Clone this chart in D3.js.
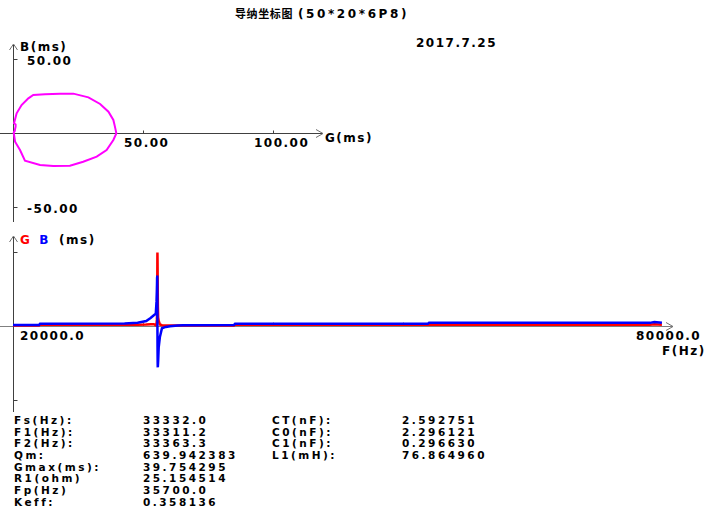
<!DOCTYPE html>
<html>
<head>
<meta charset="utf-8">
<script src="https://cdn.jsdelivr.net/npm/d3@7"></script>
<style>
  body { margin: 0; background: #fff; }
  text { font-family: "DejaVu Sans", sans-serif; font-weight: bold; font-size: 12px; letter-spacing: 1.5px; fill: #000; }
  text.param { font-size: 10.5px; letter-spacing: 2.5px; }
</style>
</head>
<body>
<svg id="chart" width="714" height="518"></svg>
<script>
const width = 714;
const height = 518;

// sweep data: frequency (Hz), conductance G (ms), susceptance B (ms)
const freqHz = [20000, 22400, 22500, 30300, 31500, 32300, 32700, 33000, 33180, 33250, 33280, 33295,
    33300, 33306, 33311, 33316, 33321, 33325, 33328, 33330, 33331, 33332, 33336, 33341,
    33347, 33353, 33360, 33366, 33375, 33400, 33450, 33560, 33750, 34100, 34500, 35200,
    35700, 40400, 40500, 58300, 58400, 78800, 79200, 79900];
const gMs = [0.3, 0.3, 0.65, 0.65, 0.7, 0.8, 1.0, 1.0, 0.4, 1.4, 3.3, 5.9,
    7.8, 12.3, 18.1, 23.2, 29.0, 33.5, 36.7, 38.6, 39.2, 39.75, 38.6, 36.0,
    32.2, 27.0, 21.9, 15.5, 10.4, 4.6, 2.7, 0.8, 0.4, 0.3, 0.3, 0.3,
    0.3, 0.3, 0.65, 0.65, 0.7, 0.7, 0.9, 0.7];
const bMs = [0.5, 0.5, 1.25, 1.3, 1.8, 2.7, 4.3, 5.8, 6.6, 13.3, 18.9, 23.4,
    25.7, 26.1, 26.6, 26.6, 24.1, 19.6, 14.4, 8.8, 4.3, -0.2, -4.7, -11.5,
    -16.0, -19.4, -22.1, -22.3, -21.6, -18.7, -11.5, -5.9, -1.2, -0.5, -0.1, 0.3,
    0.4, 0.5, 1.25, 1.25, 1.7, 1.7, 2.2, 1.7];

const gTicks = [50, 100];
const bTicks = [50, -50];
const fTicks = [32000, 44000, 56000, 68000];
const gbTicks = [40, -40];

const paramNames1 = ["Fs(Hz):", "F1(Hz):", "F2(Hz):", "Qm:", "Gmax(ms):", "R1(ohm)", "Fp(Hz)", "Keff:"];
const paramValues1 = ["33332.0", "33311.2", "33363.3", "639.942383", "39.754295", "25.154514", "35700.0", "0.358136"];
const paramNames2 = ["CT(nF):", "C0(nF):", "C1(nF):", "L1(mH):"];
const paramValues2 = ["2.592751", "2.296121", "0.296630", "76.864960"];

const data = freqHz.map((f, i) => ({ f: f, g: gMs[i], b: bMs[i] }));

const svg = d3.select("#chart");
const axisColor = "#404040";

function arrowRight(x, y) {
    svg.append("path").attr("d", `M${x - 7},${y - 4}L${x},${y}L${x - 7},${y + 4}`)
        .attr("fill", "none").attr("stroke", "#707070");
}
function arrowUp(x, y) {
    svg.append("path").attr("d", `M${x - 4},${y + 6}L${x},${y}L${x + 4},${y + 6}`)
        .attr("fill", "none").attr("stroke", "#707070");
}

// title and date
const title = svg.append("text").attr("x", 235).attr("y", 18);
title.append("tspan").style("font-family", "'Noto Sans CJK SC'").style("font-size", "11px")
    .style("letter-spacing", "0.6px").text("导纳坐标图");
title.append("tspan").attr("dx", 5).style("letter-spacing", "2.6px").text("(50*20*6P8)");
svg.append("text").attr("x", 416).attr("y", 47).text("2017.7.25");

// ---- admittance circle (G vs B) ----
const xG = d3.scaleLinear().domain([0, 50]).range([13, 143]);
const yB = d3.scaleLinear().domain([-50, 50]).range([207, 59]);

svg.append("line").attr("x1", 0).attr("x2", 323).attr("y1", yB(0) + 0.5).attr("y2", yB(0) + 0.5)
    .attr("stroke", axisColor);
svg.append("line").attr("x1", xG(0) + 0.5).attr("x2", xG(0) + 0.5).attr("y1", 45).attr("y2", 222)
    .attr("stroke", axisColor);
arrowRight(323, yB(0) + 0.5);
arrowUp(xG(0) + 0.5, 44);

svg.append("g").attr("transform", `translate(0,${yB(0) + 0.5})`)
    .call(d3.axisTop(xG).tickValues(gTicks).tickSize(3).tickFormat(""))
    .call(g => g.select(".domain").remove())
    .selectAll("line").attr("stroke", axisColor);
svg.append("g").attr("transform", `translate(${xG(0) + 0.5},0)`)
    .call(d3.axisRight(yB).tickValues(bTicks).tickSize(4).tickFormat(""))
    .call(g => g.select(".domain").remove())
    .selectAll("line").attr("stroke", axisColor);

svg.selectAll(".glabel").data(gTicks).join("text").attr("class", "glabel")
    .attr("x", d => xG(d) - 19).attr("y", 147).text(d => d.toFixed(2));
svg.selectAll(".blabel").data(bTicks).join("text").attr("class", "blabel")
    .attr("x", 27).attr("y", d => yB(d) + 6).text(d => d.toFixed(2));
svg.append("text").attr("x", 325).attr("y", 142).text("G(ms)");
svg.append("text").attr("x", 20).attr("y", 51).text("B(ms)");

svg.append("path").datum(data)
    .attr("d", d3.line().x(d => xG(d.g)).y(d => yB(d.b)).curve(d3.curveLinearClosed))
    .attr("fill", "none").attr("stroke", "#ff00ff").attr("stroke-width", 2);

// ---- G and B against frequency ----
const xF = d3.scaleLinear().domain([20000, 80000]).range([13, 663]);
const yGB = d3.scaleLinear().domain([-40, 40]).range([400, 252]);

svg.append("line").attr("x1", 0).attr("x2", 673).attr("y1", yGB(0) + 0.5).attr("y2", yGB(0) + 0.5)
    .attr("stroke", "#808080");
svg.append("line").attr("x1", 13.5).attr("x2", 13.5).attr("y1", 237).attr("y2", 412)
    .attr("stroke", axisColor);
arrowRight(673, yGB(0) + 0.5);
arrowUp(13.5, 236);

svg.append("g").attr("transform", `translate(0,${yGB(0) + 0.5})`)
    .call(d3.axisTop(xF).tickValues(fTicks).tickSize(4).tickFormat(""))
    .call(g => g.select(".domain").remove())
    .selectAll("line").attr("stroke", "#808080");
svg.append("g").attr("transform", `translate(13.5,0)`)
    .call(d3.axisRight(yGB).tickValues(gbTicks).tickSize(4).tickFormat(""))
    .call(g => g.select(".domain").remove())
    .selectAll("line").attr("stroke", axisColor);

svg.append("text").attr("x", 20).attr("y", 340).text("20000.0");
svg.append("text").attr("x", 636).attr("y", 340).text("80000.0");
svg.append("text").attr("x", 662).attr("y", 355).text("F(Hz)");
const leg = svg.append("text").attr("x", 20).attr("y", 244);
leg.append("tspan").style("fill", "#ff0000").text("G");
leg.append("tspan").attr("dx", 8).style("fill", "#0000ff").text("B");
leg.append("tspan").attr("dx", 9).text("(ms)");

svg.append("path").datum(data)
    .attr("d", d3.line().x(d => xF(d.f)).y(d => yGB(d.g)))
    .attr("fill", "none").attr("stroke", "#ff0000").attr("stroke-width", 2.5);
svg.append("path").datum(data)
    .attr("d", d3.line().x(d => xF(d.f)).y(d => yGB(d.b)))
    .attr("fill", "none").attr("stroke", "#0000ff").attr("stroke-width", 2.5);

// ---- parameter table ----
const rowY = i => 424 + i * 11.67;
svg.selectAll(".n1").data(paramNames1).join("text").attr("class", "param n1")
    .attr("x", 14).attr("y", (d, i) => rowY(i)).text(d => d);
svg.selectAll(".v1").data(paramValues1).join("text").attr("class", "param v1")
    .attr("x", 143).attr("y", (d, i) => rowY(i)).text(d => d);
svg.selectAll(".n2").data(paramNames2).join("text").attr("class", "param n2")
    .attr("x", 272).attr("y", (d, i) => rowY(i)).text(d => d);
svg.selectAll(".v2").data(paramValues2).join("text").attr("class", "param v2")
    .attr("x", 402).attr("y", (d, i) => rowY(i)).text(d => d);
</script>
</body>
</html>
